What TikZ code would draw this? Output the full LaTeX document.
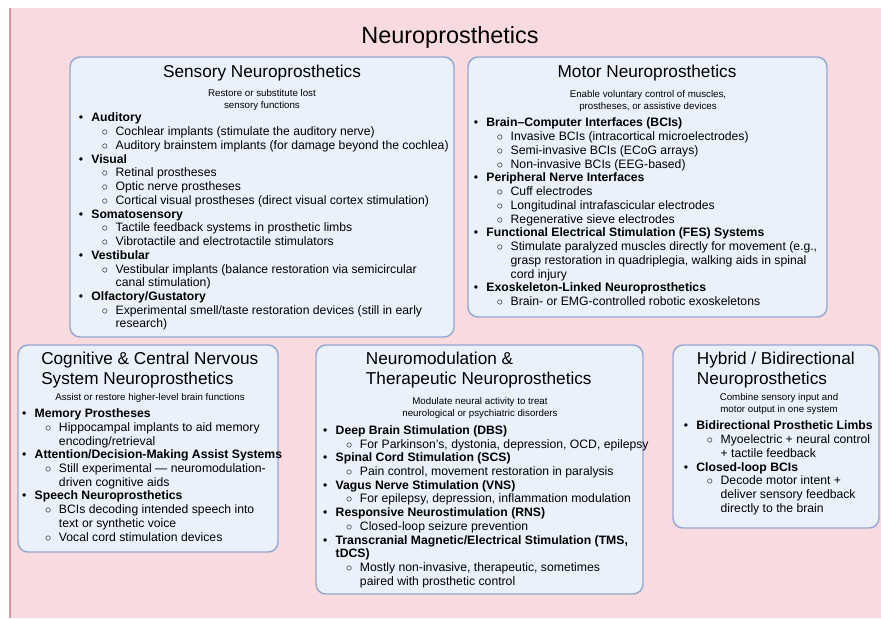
\documentclass[tikz,border=0pt]{standalone}
\usepackage{fontspec}
\setmainfont{Liberation Sans}
\definecolor{bgpink}{RGB}{248,218,223}
\definecolor{bgedge}{RGB}{226,146,156}
\definecolor{panelfill}{RGB}{234,241,251}
\definecolor{paneldraw}{RGB}{150,168,210}
% list lines
\newcommand{\mainpt}[1]{\strut\makebox[9.4pt][l]{\textbullet}\textbf{#1}}
\newcommand{\subpt}[1]{\strut\hspace*{17.3pt}\makebox[10.3pt][l]{$\circ$}#1}
\newcommand{\contln}[1]{\strut\hspace*{27.6pt}#1}
\newcommand{\boldln}[1]{\strut\hspace*{9.4pt}\textbf{#1}}

\begin{document}
\begin{tikzpicture}[x=0.75pt,y=0.75pt,yscale=-1,xscale=1,
  panel/.style={draw=paneldraw,fill=panelfill,line width=1.1pt,rounded corners=7.5pt},
  head/.style={font=\fontsize{12.9}{15}\selectfont,inner sep=0pt},
  blurb/.style={font=\fontsize{7.3}{8.8}\selectfont,align=center,inner sep=0pt,anchor=north},
  lst/.style={font=\fontsize{9.15}{10.3}\selectfont,align=left,anchor=north west,inner sep=0pt}]
\useasboundingbox (0,0) rectangle (881,618);

%Shape: Rectangle
\fill [bgpink] (10,8) rectangle (881,618) ;
\draw [bgedge,line width=0.8pt] (10,8) -- (10,618) ;

% Text Node
\node (title) [font=\fontsize{17.6}{20}\selectfont,inner sep=0pt,anchor=base] at (450,43.3) {Neuroprosthetics};

%Shape: Rounded Rect
\draw [panel] (70,57) rectangle (454,337) ;
% Text Node
\node (sensoryHead) [head,anchor=base] at (262,77) {Sensory Neuroprosthetics};
% Text Node
\node (sensorySub) [blurb] at (262,88.1) {\strut Restore or substitute lost\\sensory functions};
% Text Node
\node (sensoryList) [lst] at (78.6,112.1) {%
\mainpt{Auditory}\\
\subpt{Cochlear implants (stimulate the auditory nerve)}\\
\subpt{Auditory brainstem implants (for damage beyond the cochlea)}\\
\mainpt{Visual}\\
\subpt{Retinal prostheses}\\
\subpt{Optic nerve prostheses}\\
\subpt{Cortical visual prostheses (direct visual cortex stimulation)}\\
\mainpt{Somatosensory}\\
\subpt{Tactile feedback systems in prosthetic limbs}\\
\subpt{Vibrotactile and electrotactile stimulators}\\
\mainpt{Vestibular}\\
\subpt{Vestibular implants (balance restoration via semicircular}\\
\contln{canal stimulation)}\\
\mainpt{Olfactory/Gustatory}\\
\subpt{Experimental smell/taste restoration devices (still in early}\\
\contln{research)}};

%Shape: Rounded Rect
\draw [panel] (468,57) rectangle (827,317) ;
% Text Node
\node (motorHead) [head,anchor=base] at (647,77) {Motor Neuroprosthetics};
% Text Node
\node (motorSub) [blurb] at (648,89.1) {\strut Enable voluntary control of muscles,\\prostheses, or assistive devices};
% Text Node
\node (motorList) [lst] at (473.6,117.1) {%
\mainpt{Brain–Computer Interfaces (BCIs)}\\
\subpt{Invasive BCIs (intracortical microelectrodes)}\\
\subpt{Semi-invasive BCIs (ECoG arrays)}\\
\subpt{Non-invasive BCIs (EEG-based)}\\
\mainpt{Peripheral Nerve Interfaces}\\
\subpt{Cuff electrodes}\\
\subpt{Longitudinal intrafascicular electrodes}\\
\subpt{Regenerative sieve electrodes}\\
\mainpt{Functional Electrical Stimulation (FES) Systems}\\
\subpt{Stimulate paralyzed muscles directly for movement (e.g.,}\\
\contln{grasp restoration in quadriplegia, walking aids in spinal}\\
\contln{cord injury}\\
\mainpt{Exoskeleton-Linked Neuroprosthetics}\\
\subpt{Brain- or EMG-controlled robotic exoskeletons}};

%Shape: Rounded Rect
\draw [panel] (18,345) rectangle (278,552) ;
% Text Node
\node (cogHead) [head,align=left,anchor=north west] at (41,350.3) {\strut Cognitive \& Central Nervous\\System Neuroprosthetics};
% Text Node
\node (cogSub) [blurb] at (150,392.5) {\strut Assist or restore higher-level brain functions};
% Text Node
\node (cogList) [lst] at (21.9,407.7) {%
\mainpt{Memory Prostheses}\\
\subpt{Hippocampal implants to aid memory}\\
\contln{encoding/retrieval}\\
\mainpt{Attention/Decision-Making Assist Systems}\\
\subpt{Still experimental — neuromodulation-}\\
\contln{driven cognitive aids}\\
\mainpt{Speech Neuroprosthetics}\\
\subpt{BCIs decoding intended speech into}\\
\contln{text or synthetic voice}\\
\subpt{Vocal cord stimulation devices}};

%Shape: Rounded Rect
\draw [panel] (316,345) rectangle (643,594) ;
% Text Node
\node (neuroHead) [head,align=left,anchor=north west] at (365.7,350.3) {\strut Neuromodulation \&\\Therapeutic Neuroprosthetics};
% Text Node
\node (neuroSub) [blurb] at (480,396.5) {\strut Modulate neural activity to treat\\neurological or psychiatric disorders};
% Text Node
\node (neuroList) [lst] at (322.9,424.4) {%
\mainpt{Deep Brain Stimulation (DBS)}\\
\subpt{For Parkinson’s, dystonia, depression, OCD, epilepsy}\\
\mainpt{Spinal Cord Stimulation (SCS)}\\
\subpt{Pain control, movement restoration in paralysis}\\
\mainpt{Vagus Nerve Stimulation (VNS)}\\
\subpt{For epilepsy, depression, inflammation modulation}\\
\mainpt{Responsive Neurostimulation (RNS)}\\
\subpt{Closed-loop seizure prevention}\\
\mainpt{Transcranial Magnetic/Electrical Stimulation (TMS,}\\
\boldln{tDCS)}\\
\subpt{Mostly non-invasive, therapeutic, sometimes}\\
\contln{paired with prosthetic control}};

%Shape: Rounded Rect
\draw [panel] (673,345) rectangle (879,528) ;
% Text Node
\node (hybridHead) [head,align=left,anchor=north west] at (696.7,350.3) {\strut Hybrid / Bidirectional\\Neuroprosthetics};
% Text Node
\node (hybridSub) [blurb] at (779,392.5) {\strut Combine sensory input and\\motor output in one system};
% Text Node
\node (hybridList) [lst] at (683.6,420.1) {%
\mainpt{Bidirectional Prosthetic Limbs}\\
\subpt{Myoelectric + neural control}\\
\contln{+ tactile feedback}\\
\mainpt{Closed-loop BCIs}\\
\subpt{Decode motor intent +}\\
\contln{deliver sensory feedback}\\
\contln{directly to the brain}};

\end{tikzpicture}
\end{document}
